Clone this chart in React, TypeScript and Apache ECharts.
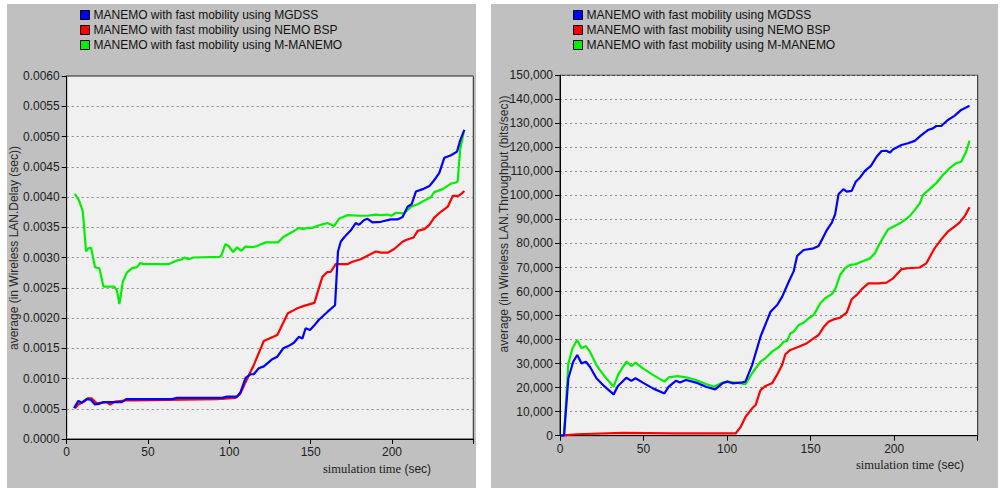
import React, { useEffect, useRef } from "react";
import * as echarts from "echarts";

const seriesNames = [
  "MANEMO with fast mobility using MGDSS",
  "MANEMO with fast mobility using NEMO BSP",
  "MANEMO with fast mobility using M-MANEMO",
];
const seriesColors = ["#0000ff", "#ff0000", "#00f000"];

const xTicks = [0, 50, 100, 150, 200];
const delayTickLabels = ["0.0000", "0.0005", "0.0010", "0.0015", "0.0020", "0.0025", "0.0030", "0.0035", "0.0040", "0.0045", "0.0050", "0.0055", "0.0060"];

const delayMgdss: [number, number][] = [
  [4.5, 0.00051], [7.2, 0.00063], [9.2, 0.0006], [12.3, 0.00066], [14.8, 0.00065], [17.4, 0.00057], [19.7, 0.00058], [22.6, 0.00061], [33.9, 0.00061], [36.6, 0.00066], [64.7, 0.00066], [67.8, 0.00068], [95.6, 0.00068], [98.6, 0.0007], [104.8, 0.0007], [106.8, 0.00077], [110, 0.00101], [113, 0.00107], [115, 0.00107], [118.1, 0.00117], [121.2, 0.0012], [124.3, 0.00127], [126.4, 0.00132], [129.5, 0.00136], [133.2, 0.0015], [136.6, 0.00154], [139.7, 0.00159], [142.8, 0.00169], [144.9, 0.00166], [146.9, 0.00183], [149.6, 0.0018], [152, 0.00187], [155.1, 0.00197], [160.3, 0.0021], [165, 0.00221], [166.8, 0.0031], [168.5, 0.00326], [170.5, 0.00333], [174.7, 0.00345], [177.7, 0.00357], [179.8, 0.00354], [182.9, 0.00362], [185, 0.00364], [188, 0.00358], [193.2, 0.00359], [199.3, 0.00363], [203.4, 0.00363], [206.5, 0.00367], [209.6, 0.00384], [212.1, 0.00388], [214.7, 0.00409], [218.9, 0.00413], [223, 0.00418], [226, 0.00428], [229.1, 0.0044], [232.2, 0.00465], [236.3, 0.00469], [240, 0.00475], [242, 0.00494], [244.5, 0.00511],
];
const delayNemo: [number, number][] = [
  [5.1, 0.00051], [7.2, 0.00057], [10.3, 0.00061], [12.7, 0.00067], [15.4, 0.00067], [18.5, 0.00059], [24.6, 0.00061], [26.7, 0.00057], [29.8, 0.00062], [37, 0.00064], [41, 0.00064], [92.5, 0.00066], [103.8, 0.00068], [106.8, 0.00075], [111, 0.001], [115, 0.00122], [121.2, 0.00162], [125.3, 0.00167], [129.5, 0.00172], [136, 0.00208], [139.7, 0.00213], [141.8, 0.00216], [145.9, 0.0022], [152.3, 0.00225], [157.2, 0.00268], [160.3, 0.00276], [162.3, 0.00276], [165.4, 0.00289], [172.6, 0.00289], [175.7, 0.00293], [180.8, 0.00297], [190, 0.0031], [193.2, 0.00308], [197.3, 0.00308], [201.4, 0.00314], [206.5, 0.00326], [208.6, 0.00329], [213.3, 0.00333], [215.8, 0.00344], [219.9, 0.00347], [223, 0.00354], [226, 0.00366], [230.2, 0.00376], [234.3, 0.00384], [237.4, 0.00402], [240.9, 0.00402], [243, 0.00406], [244.5, 0.0041],
];
const delayMManemo: [number, number][] = [
  [5, 0.00405], [7.5, 0.00395], [9.9, 0.00376], [11.9, 0.0031], [13.3, 0.00315], [15, 0.00316], [17.4, 0.00284], [20.1, 0.00282], [22.6, 0.00252], [29.2, 0.00252], [30.8, 0.00246], [32.4, 0.00223], [34.5, 0.0026], [37, 0.00275], [40, 0.00282], [43.2, 0.00284], [45.2, 0.00291], [47.2, 0.00289], [62.6, 0.00289], [67.8, 0.00295], [70.9, 0.00297], [72.3, 0.003], [75, 0.00297], [77.7, 0.003], [94.1, 0.00301], [95, 0.00303], [97.6, 0.00322], [99.6, 0.00319], [102.3, 0.00309], [104.8, 0.00317], [107.3, 0.00311], [109.9, 0.00318], [114, 0.00317], [117.1, 0.00319], [122.3, 0.00325], [129.9, 0.00325], [133.2, 0.00334], [138.7, 0.00342], [142.8, 0.00349], [144.9, 0.00347], [148, 0.00349], [151, 0.00349], [156.2, 0.00354], [160.3, 0.00357], [164.4, 0.00352], [167.4, 0.00364], [172.6, 0.0037], [180.8, 0.00369], [184.9, 0.00369], [190, 0.00371], [193.2, 0.0037], [197.3, 0.00371], [199.7, 0.00369], [202.4, 0.00374], [207.5, 0.00373], [211.7, 0.00384], [215.8, 0.00388], [219.9, 0.00394], [224, 0.004], [226, 0.00408], [231.2, 0.00413], [236.3, 0.00422], [239.4, 0.00424], [240.4, 0.00426], [241.9, 0.00478], [244.1, 0.00507],
];

const thrMgdss: [number, number][] = [
  [0.5, 0], [2.4, 0], [5, 23900], [7.9, 30800], [10.3, 33600], [12.9, 30100], [15.5, 30800], [17.9, 28700], [21.8, 23900], [26.8, 20400], [32.1, 17200], [34.7, 20700], [39.7, 24100], [42.7, 22800], [45.2, 23900], [49.6, 22100], [55.6, 19700], [62.5, 17600], [65.1, 20400], [69.5, 22900], [71.8, 22100], [75.4, 23200], [81.4, 22100], [87.3, 20400], [92.9, 19300], [97.2, 21800], [100.2, 22500], [103.2, 21800], [109.1, 22200], [111, 22500], [115, 29400], [120, 41200], [124, 48100], [126, 51600], [130, 54400], [133, 57900], [136.9, 64100], [139.9, 68500], [141.9, 74800], [145.8, 77300], [151.8, 78000], [154.8, 79000], [156.7, 81500], [159.7, 85600], [162.7, 88700], [164.7, 92200], [166.7, 100500], [169.6, 102600], [171.6, 101600], [174.6, 101900], [177, 105700], [179.6, 107500], [182.5, 110200], [186.1, 112300], [189.5, 116100], [192.5, 118500], [195.4, 118600], [197.4, 117800], [199.4, 119200], [204.4, 121000], [208.3, 121700], [212.3, 122700], [216.3, 125100], [220.2, 127200], [223.2, 127900], [225.2, 128900], [228.2, 128900], [232.1, 131400], [236.1, 133100], [240.1, 135600], [245.1, 137300],
];
const thrNemo: [number, number][] = [
  [0.5, 0], [10, 600], [37.7, 1200], [67.4, 1000], [105.2, 1000], [108.2, 3700], [111.1, 7900], [115, 11400], [117.1, 12800], [120, 19000], [123, 20700], [126.9, 21800], [129.9, 25300], [132.9, 29400], [134.9, 33900], [137.9, 35700], [142.9, 37000], [147.8, 38500], [151.8, 40500], [154.8, 41900], [157.7, 45100], [160.7, 47400], [163.7, 48400], [167.7, 49100], [171.6, 51200], [174.6, 56800], [177.6, 58600], [180.5, 60900], [184.5, 63400], [190.5, 63400], [195.4, 63700], [199.4, 65500], [204.4, 69300], [208.3, 69700], [215.3, 70000], [219.2, 71700], [224.2, 78000], [228.2, 81700], [232.1, 84900], [236.1, 87000], [239.1, 88700], [242.1, 91200], [245.1, 95100],
];
const thrMManemo: [number, number][] = [
  [0.5, 0], [2.4, 0], [5, 30100], [7.5, 36400], [10.3, 39800], [12.9, 36400], [15.5, 37300], [17.9, 35000], [21.8, 29400], [26.8, 24600], [32.1, 20400], [34.7, 25300], [39.7, 30800], [42.7, 29000], [45.2, 30400], [49.6, 28000], [55.6, 25300], [62.5, 22500], [65.1, 24300], [70.4, 24800], [75.4, 24300], [81.4, 23200], [87.3, 21500], [92.3, 20400], [97.2, 22100], [100.2, 22500], [105.2, 22100], [111.1, 21500], [115, 26000], [120, 30800], [122.9, 32200], [126.9, 35000], [130.9, 36800], [133.9, 39100], [135.9, 39400], [137.9, 42600], [139.9, 43300], [142.9, 46100], [145.8, 47000], [148.8, 48900], [151.8, 50200], [155.8, 55100], [158.7, 57200], [162.7, 58900], [164.7, 60900], [167.7, 66900], [170.6, 69700], [173.6, 71100], [176.6, 71300], [180.5, 72400], [185.5, 73800], [188.5, 75900], [191, 79500], [193.5, 82600], [196.4, 85900], [199.4, 87000], [203.4, 88400], [206.4, 89800], [209.3, 91400], [212.3, 93900], [215.3, 96700], [217.3, 100200], [221.2, 102600], [225.2, 105100], [229.2, 108500], [233.1, 111300], [237.1, 113400], [240.1, 114000], [243.1, 118200], [245.1, 122800],
];

const delayTitle = "average (in Wireless LAN.Delay (sec))";
const thrTitle = "average (in Wireless LAN.Throughput (bits/sec))";
const xTitleSerif = "simulation time";
const xTitleSans = "(sec)";

const FONT = "'Liberation Sans', Arial, sans-serif";
const TXT = "#202020";

function xAxisCfg(gridIndex: number) {
  return {
    type: "value",
    gridIndex,
    min: 0,
    max: 250,
    interval: 50,
    axisLine: { show: true, lineStyle: { color: "#000", width: 1 } },
    axisTick: { show: true, length: 5, lineStyle: { color: "#000" } },
    axisLabel: {
      margin: 7,
      color: TXT,
      fontFamily: FONT,
      fontSize: 12,
      formatter: (v: number) => (xTicks.includes(v) ? String(v) : ""),
    },
    splitLine: { show: false },
  };
}

function yAxisCfg(gridIndex: number, max: number, interval: number, fmt: (v: number) => string) {
  return {
    type: "value",
    gridIndex,
    min: 0,
    max,
    interval,
    axisLine: { show: true, lineStyle: { color: "#000", width: 1 } },
    axisTick: { show: true, length: 5, lineStyle: { color: "#000" } },
    axisLabel: { margin: 7, color: TXT, fontFamily: FONT, fontSize: 12, formatter: fmt },
    splitLine: { show: true, lineStyle: { color: "#8a8a8a", type: [2, 3], width: 1 } },
  };
}

function lineSeries(name: string, color: string, data: [number, number][], axisIndex: number, z: number) {
  return {
    type: "line",
    name,
    data,
    xAxisIndex: axisIndex,
    yAxisIndex: axisIndex,
    showSymbol: false,
    symbol: "none",
    smooth: false,
    z,
    lineStyle: { color, width: 2.2 },
    itemStyle: { color },
  };
}

function legendCfg(left: number) {
  return {
    left,
    top: 7.5,
    orient: "vertical",
    itemWidth: 9,
    itemHeight: 9,
    itemGap: 0,
    icon: "rect",
    selectedMode: false,
    textStyle: { color: "#111", fontFamily: FONT, fontSize: 12, lineHeight: 15, padding: [0, 0, 0, -1] },
    itemStyle: { borderColor: "#000", borderWidth: 1 },
    data: seriesNames.map((n, i) => ({ name: n, itemStyle: { color: seriesColors[i], borderColor: "#000", borderWidth: 1 } })),
    padding: 0,
  };
}

function xTitle(x: number, y: number) {
  return {
    type: "text",
    x,
    y,
    style: {
      text: `{a|${xTitleSerif}} {b|${xTitleSans}}`,
      verticalAlign: "middle",
      rich: {
        a: { fontFamily: "'Liberation Serif', 'Times New Roman', serif", fontSize: 12.5, fill: "#1a1a1a" },
        b: { fontFamily: FONT, fontSize: 12, fill: "#222" },
      },
    },
  };
}

export default function App() {
  const ref = useRef<HTMLDivElement>(null);
  useEffect(() => {
    if (!ref.current) return;
    const chart = echarts.init(ref.current, undefined, { renderer: "svg" });
    const delayFmt = (v: number) => {
      const i = Math.round(v / 0.0005);
      return delayTickLabels[i] ?? v.toFixed(4);
    };
    const thrFmt = (v: number) => v.toLocaleString("en-US");
    chart.setOption({
      animation: false,
      backgroundColor: "#ffffff",
      graphic: {
        elements: [
          { type: "rect", z: -100, shape: { x: 7, y: 4, width: 469, height: 490 }, style: { fill: "#c0c0c0" } },
          { type: "rect", z: -100, shape: { x: 491, y: 4, width: 507, height: 490 }, style: { fill: "#c0c0c0" } },
          {
            type: "text",
            x: 14,
            y: 248,
            rotation: Math.PI / 2,
            style: { text: delayTitle, fill: "#2a2a2a", font: `12px ${FONT}`, align: "center", verticalAlign: "middle" },
          },
          {
            type: "text",
            x: 504,
            y: 224,
            rotation: Math.PI / 2,
            style: { text: thrTitle, fill: "#2a2a2a", font: `12px ${FONT}`, align: "center", verticalAlign: "middle" },
          },
          xTitle(323, 469),
          xTitle(856, 465),
        ],
      },
      legend: [legendCfg(80), legendCfg(573)],
      grid: [
        { left: 66.7, top: 76, width: 406.6, height: 363, show: true, backgroundColor: "#f0f0f0", borderColor: "#202020", borderWidth: 1 },
        { left: 560, top: 75.3, width: 417.7, height: 360.4, show: true, backgroundColor: "#f0f0f0", borderColor: "#202020", borderWidth: 1 },
      ],
      xAxis: [xAxisCfg(0), xAxisCfg(1)],
      yAxis: [yAxisCfg(0, 0.006, 0.0005, delayFmt), yAxisCfg(1, 150000, 10000, thrFmt)],
      series: [
        lineSeries(seriesNames[2], seriesColors[2], delayMManemo, 0, 2),
        lineSeries(seriesNames[1], seriesColors[1], delayNemo, 0, 3),
        lineSeries(seriesNames[0], seriesColors[0], delayMgdss, 0, 4),
        lineSeries(seriesNames[2], seriesColors[2], thrMManemo, 1, 2),
        lineSeries(seriesNames[1], seriesColors[1], thrNemo, 1, 3),
        lineSeries(seriesNames[0], seriesColors[0], thrMgdss, 1, 4),
      ],
    });
    return () => chart.dispose();
  }, []);
  return (
    <div style={{ position: "fixed", left: 0, top: 0, width: 1000, height: 488, background: "#fff" }}>
      <div ref={ref} style={{ width: 1000, height: 488 }} />
    </div>
  );
}
